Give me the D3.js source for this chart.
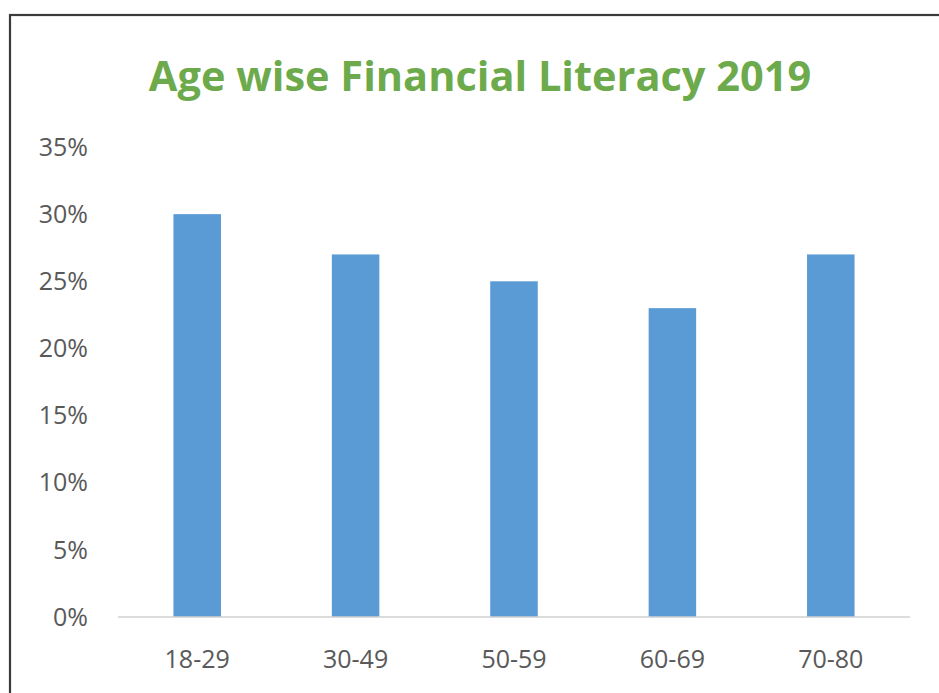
<!DOCTYPE html>
<html>
<head>
<meta charset="utf-8">
<script src="https://cdn.jsdelivr.net/npm/d3@7"></script>
<style>
  html, body { margin: 0; padding: 0; background: #fff; }
  svg { display: block; }
</style>
</head>
<body>
<div id="chart"></div>
<script>
// ---- data ----
var ageGroups = ["18-29", "30-49", "50-59", "60-69", "70-80"];
var literacy = [0.30, 0.27, 0.25, 0.23, 0.27];
var yTicks = [0, 0.05, 0.10, 0.15, 0.20, 0.25, 0.30, 0.35];
var chartTitle = "Age wise Financial Literacy 2019";

(function () {
  var W = 939, H = 693;
  var svg = d3.select("#chart").append("svg").attr("width", W).attr("height", H);

  // frame (right and bottom edges run off the picture)
  svg.append("rect").attr("x", 10).attr("y", 15).attr("width", 960).attr("height", 700)
    .attr("fill", "#fff").attr("stroke", "#3a3a3a").attr("stroke-width", 2.2);

  var m = { left: 118, right: 29, top: 147, bottom: 76 };
  var x = d3.scaleBand().domain(ageGroups).range([m.left, W - m.right]).paddingInner(0.7).paddingOuter(0.35);
  var y = d3.scaleLinear().domain([0, 0.35]).range([H - m.bottom, m.top]);

  // title
  svg.append("text").attr("x", 480).attr("y", 91).attr("text-anchor", "middle")
    .attr("font-family", "'Open Sans', sans-serif").attr("font-weight", 700).attr("font-size", 41.5)
    .attr("fill", "#6DAA4B").text(chartTitle);

  // y labels (no axis line)
  svg.append("g").selectAll("text").data(yTicks).enter().append("text")
    .attr("x", 88).attr("y", function (d) { return y(d); }).attr("dy", "0.35em")
    .attr("text-anchor", "end").attr("font-family", "'Open Sans', sans-serif").attr("font-size", 25)
    .attr("fill", "#595959").text(d3.format(".0%"));

  // bars
  svg.append("g").selectAll("rect").data(literacy).enter().append("rect")
    .attr("x", function (d, i) { return x(ageGroups[i]); })
    .attr("width", x.bandwidth())
    .attr("y", function (d) { return y(d); })
    .attr("height", function (d) { return y(0) - y(d); })
    .attr("fill", "#5B9BD5");

  // baseline
  svg.append("line").attr("x1", m.left).attr("x2", W - m.right)
    .attr("y1", y(0)).attr("y2", y(0)).attr("stroke", "#d0d0d0").attr("stroke-width", 1.5);

  // x labels
  svg.append("g").selectAll("text").data(ageGroups).enter().append("text")
    .attr("x", function (d) { return x(d) + x.bandwidth() / 2; })
    .attr("y", 668).attr("text-anchor", "middle")
    .attr("font-family", "'Open Sans', sans-serif").attr("font-size", 25)
    .attr("fill", "#595959").text(function (d) { return d; });
})();
</script>
</body>
</html>
